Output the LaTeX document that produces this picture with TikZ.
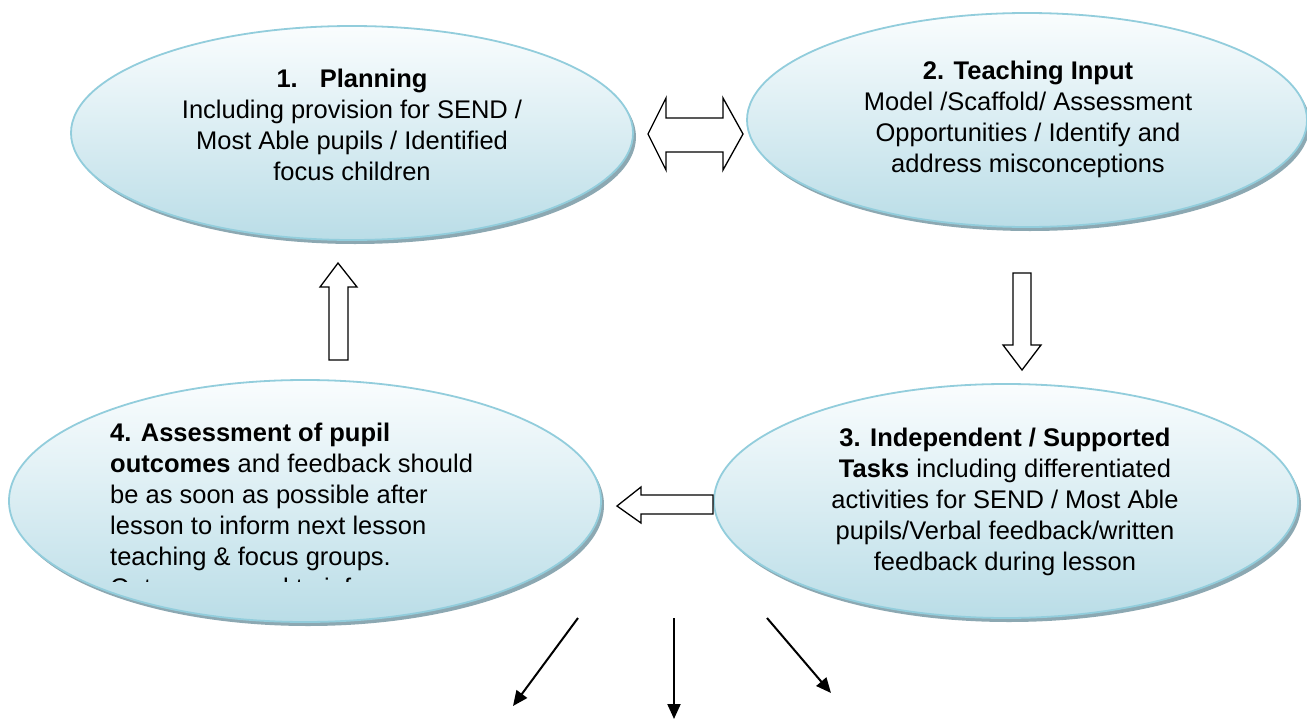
\documentclass[tikz,border=0pt]{standalone}
\usepackage{fontspec}
\setmainfont{Liberation Sans}
\usetikzlibrary{arrows.meta,shapes.geometric}
\definecolor{ebord}{RGB}{146,205,220}
\definecolor{etop}{RGB}{250,253,254}
\definecolor{emid}{RGB}{205,231,238}
\definecolor{ebot}{RGB}{186,221,231}
\definecolor{eshadow}{RGB}{140,168,178}
\tikzset{
  bubble/.style={ellipse, draw=ebord, line width=1.8pt, top color=etop, middle color=emid, bottom color=ebot, inner sep=0pt},
  bubbleshadow/.style={ellipse, fill=eshadow, inner sep=0pt},
  bubbletext/.style={font=\fontsize{25.5}{31}\selectfont, inner sep=0pt, text=black},
  blockarrow/.style={draw=black, fill=white, line width=1.3pt, line join=miter},
  thinarrow/.style={draw=black, line width=2pt, -{Triangle[length=15pt,width=13pt]}}
}
\begin{document}
\begin{tikzpicture}[x=1pt,y=-1pt]
\useasboundingbox[fill=white] (0,0) rectangle (1307,720);
% shadows
\node[bubbleshadow, minimum width=562pt, minimum height=214pt] (s1) at (355,137) {};
\node[bubbleshadow, minimum width=560pt, minimum height=214pt] (s2) at (1030,124) {};
\node[bubbleshadow, minimum width=584pt, minimum height=234pt] (s3) at (1009,505) {};
\node[bubbleshadow, minimum width=592pt, minimum height=242pt] (s4) at (308,505) {};
% ellipses
\node[bubble, minimum width=562pt, minimum height=214pt] (e1) at (352,133) {};
\node[bubble, minimum width=560pt, minimum height=214pt] (e2) at (1027,120) {};
\node[bubble, minimum width=584pt, minimum height=234pt] (e3) at (1006,501) {};
\node[bubble, minimum width=592pt, minimum height=242pt] (e4) at (305,501) {};
% texts
\node[bubbletext, align=center, anchor=north] (t1) at (352,69)
  {\textbf{1.\hspace{22pt}Planning}\\Including provision for SEND /\\Most Able pupils / Identified\\focus children};
\node[bubbletext, align=center, anchor=north] (t2) at (1028,61)
  {\textbf{2. Teaching Input}\\Model /Scaffold/ Assessment\\Opportunities / Identify and\\address misconceptions};
\node[bubbletext, align=center, anchor=north] (t3) at (1005,428)
  {\textbf{3. Independent / Supported}\\\textbf{Tasks} including differentiated\\activities for SEND / Most Able\\pupils/Verbal feedback/written\\feedback during lesson};
\begin{scope}
\clip (0,0) rectangle (1307,581);
\node[bubbletext, align=left, anchor=north west] (t4) at (110,423)
  {\textbf{4. Assessment of pupil}\\\textbf{outcomes} and feedback should\\be as soon as possible after\\lesson to inform next lesson\\teaching \& focus groups.\\Outcomes used to inform};
\end{scope}
% block arrows
\draw[blockarrow] (648,134) -- (666,98) -- (666,118) -- (723,118) -- (723,98) -- (743,134)
  -- (723,170) -- (723,152) -- (666,152) -- (666,170) -- cycle;
\draw[blockarrow] (1013,273) -- (1031,273) -- (1031,345) -- (1041,345) -- (1022,370)
  -- (1003,345) -- (1013,345) -- cycle;
\draw[blockarrow] (329,360) -- (348,360) -- (348,287) -- (357,287) -- (338,263)
  -- (320,287) -- (329,287) -- cycle;
\draw[blockarrow] (713,495) -- (713,514) -- (641,514) -- (641,523) -- (617,506)
  -- (641,487) -- (641,495) -- cycle;
% thin arrows
\coordinate (a1s) at (578,618); \coordinate (a1e) at (513,706);
\coordinate (a2s) at (674,618); \coordinate (a2e) at (674,719);
\coordinate (a3s) at (767,618); \coordinate (a3e) at (831,693);
\draw[thinarrow] (a1s) -- (a1e);
\draw[thinarrow] (a2s) -- (a2e);
\draw[thinarrow] (a3s) -- (a3e);
\end{tikzpicture}
\end{document}
